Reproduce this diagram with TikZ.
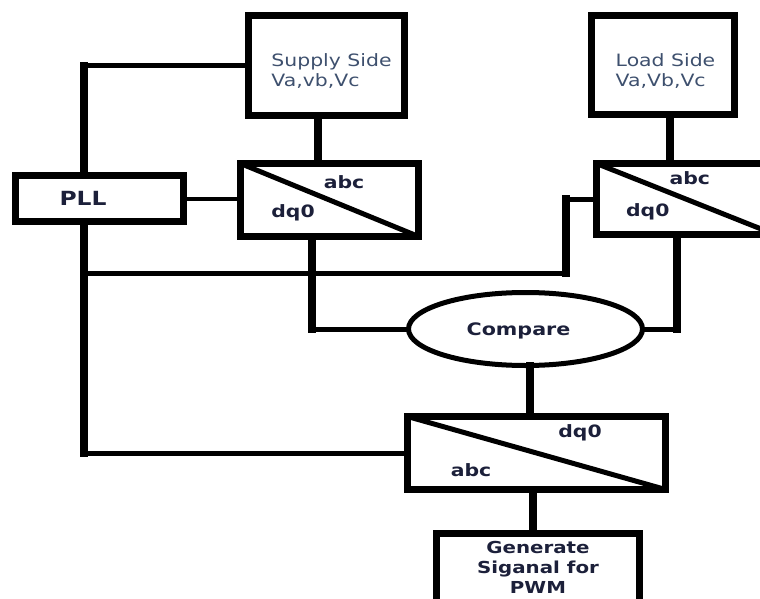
\documentclass[tikz,border=0pt]{standalone}
\usepackage{fontspec}
\setmainfont{DejaVu Sans}[FakeStretch=1.2,BoldFont={DejaVu Sans Bold},BoldFeatures={FakeStretch=1.2}]
\usetikzlibrary{shapes.geometric}
\definecolor{ink}{RGB}{28,32,58}
\definecolor{slate}{RGB}{62,80,110}
\tikzset{
  blk/.style={draw,line width=7pt,inner sep=0pt,outer sep=0pt,text=ink,
    font=\bfseries\fontsize{16.5}{20}\selectfont},
  lbl/.style={inner sep=0pt,text=ink,font=\bfseries\fontsize{17}{20}\selectfont},
  side/.style={inner sep=0pt,align=left,text=slate,font=\fontsize{17}{20}\selectfont},
  hw/.style={line width=5pt},
  vw/.style={line width=7.5pt,line cap=rect},
  diag/.style={line width=5pt},
}
\begin{document}
\begin{tikzpicture}[x=1pt,y=-1pt]
\useasboundingbox (0,0) rectangle (760,599);
\clip (0,0) rectangle (760,599);
\node[blk,minimum width=156pt,minimum height=100pt] (sup) at (326.5,65.5) {};
\node[side] (suptxt) at ([shift={(5,5.5)}]sup.center) {Supply Side\\Va,vb,Vc};
\node[blk,minimum width=143pt,minimum height=99pt] (ld) at (663,65) {};
\node[side] (ldtxt) at ([shift={(2.5,6)}]ld.center) {Load Side\\Va,Vb,Vc};
\node[blk,minimum width=168pt,minimum height=46pt] (pll) at (99.5,198.5) {};
\node[lbl,font=\bfseries\fontsize{19.5}{22}\selectfont] (plltxt) at ([xshift=-16.5pt]pll.center) {PLL};
\node[blk,minimum width=178pt,minimum height=73pt] (c1) at (329.5,200) {};
\node[blk,minimum width=178.5pt,minimum height=71pt] (c2) at (685.75,199) {};
\node[blk,ellipse,line width=5pt,minimum width=234pt,minimum height=73pt] (cmp) at (525.5,329) {};
\node[lbl,font=\bfseries\fontsize{17.2}{20}\selectfont] (cmptxt) at ([shift={(-7,2)}]cmp.center) {Compare};
\node[blk,minimum width=258pt,minimum height=73pt] (c3) at (536.5,453) {};
\node[blk,minimum width=203pt,minimum height=80pt] (gen) at (538,573.5) {};
\node[lbl,align=center,font=\bfseries\fontsize{16.5}{20}\selectfont] (gentxt) at ([shift={(0,-6)}]gen.center) {Generate\\Siganal for\\PWM};
\draw[diag] (c1.north west) -- (c1.south east);
\draw[diag] (c2.north west) -- (c2.south east);
\draw[diag] (c3.north west) -- (c3.south east);
\node[lbl] (c1a) at ([shift={(14.5,-18)}]c1.center) {abc};
\node[lbl] (c1d) at ([shift={(-36.5,13)}]c1.center) {dq0};
\node[lbl] (c2a) at ([shift={(4,-21)}]c2.center) {abc};
\node[lbl] (c2d) at ([shift={(-38,13)}]c2.center) {dq0};
\node[lbl] (c3d) at ([shift={(43.5,-20)}]c3.center) {dq0};
\node[lbl] (c3a) at ([shift={(-65.5,17)}]c3.center) {abc};
\coordinate (bus) at (84,273);
\coordinate (jog) at (566,273);
\coordinate (s1) at (318,0);
\coordinate (d1) at (312,0);
\coordinate (l1) at (670,0);
\coordinate (d2) at (677,0);
\coordinate (m1) at (530,0);
\coordinate (g1) at (533,0);
\draw[hw] (sup.west) -- (sup.west -| bus);
\draw[vw] (sup.west -| bus) -- (pll.north -| bus);
\draw[hw,line width=4pt] (pll.east) -- (pll.east -| c1.west);
\draw[vw] (sup.south -| s1) -- (c1.north -| s1);
\draw[vw] (pll.south -| bus) -- (bus |- c3.west);
\draw[hw] (bus |- c3.west) -- (c3.west);
\draw[hw] (bus) -- (jog);
\draw[vw] (jog) -- (jog |- c2.west);
\draw[hw] (jog |- c2.west) -- (c2.west);
\draw[vw] (c1.south -| d1) -- (d1 |- cmp.west);
\draw[hw] (d1 |- cmp.west) -- (cmp.west);
\draw[vw] (ld.south -| l1) -- (c2.north -| l1);
\draw[vw] (c2.south -| d2) -- (d2 |- cmp.east);
\draw[hw] (d2 |- cmp.east) -- (cmp.east);
\draw[vw] (cmp.south -| m1) -- (c3.north -| m1);
\draw[vw] (c3.south -| g1) -- (gen.north -| g1);
\end{tikzpicture}
\end{document}
